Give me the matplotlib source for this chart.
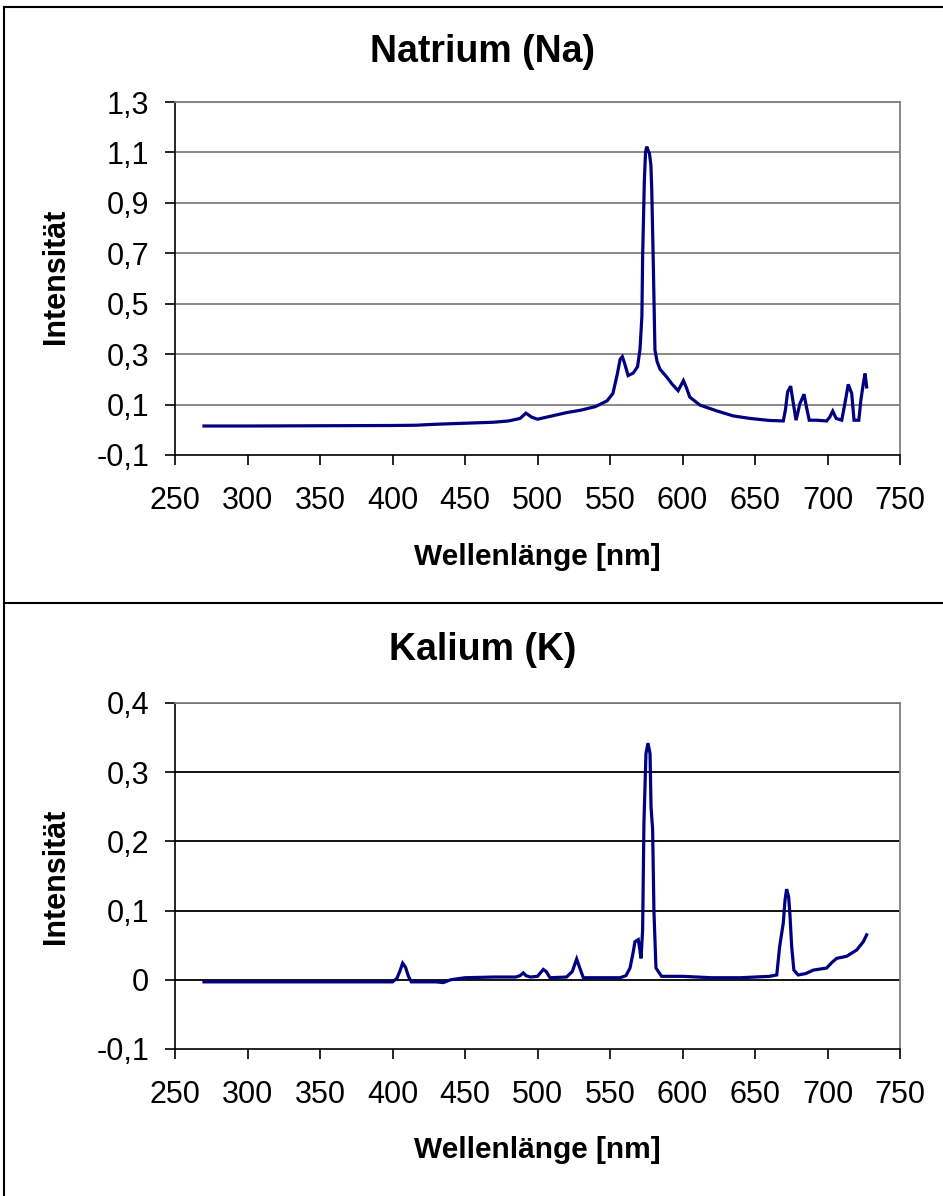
import matplotlib
matplotlib.use("Agg")
import matplotlib.pyplot as plt
from matplotlib.lines import Line2D
from matplotlib.ticker import FixedLocator, FixedFormatter

plt.rcParams['font.family'] = ['Liberation Sans', 'DejaVu Sans']

# ---- data ----
na_wl = [270, 300, 350, 400, 416, 430, 450, 470, 480, 488, 492, 496, 500, 510, 520, 530,
         540, 548, 552, 555, 557, 558.5, 560, 562.5, 566, 569, 570.7, 572, 572.5, 573.7,
         574.5, 575.3, 576.2, 577.2, 578.2, 578.8, 579.9, 581, 582.5, 584.5, 589, 593,
         597, 600.6, 602.5, 605, 612, 623.6, 635, 646.6, 660, 669.5, 671, 672.5, 674.6,
         676, 678.3, 681, 683.8, 685.5, 687.4, 692.5, 699.4, 701.5, 703.6, 706, 709.8,
         712, 714.3, 716.7, 718.3, 721.6, 723, 724.7, 725.9, 727]
na_int = [0.015, 0.015, 0.016, 0.017, 0.018, 0.022, 0.026, 0.030, 0.035, 0.045, 0.066,
          0.050, 0.042, 0.055, 0.068, 0.078, 0.092, 0.115, 0.144, 0.22, 0.28, 0.29,
          0.265, 0.215, 0.225, 0.25, 0.32, 0.45, 0.686, 0.99, 1.10, 1.123, 1.11, 1.096,
          1.05, 0.951, 0.646, 0.316, 0.27, 0.24, 0.21, 0.18, 0.155, 0.195, 0.17, 0.13,
          0.098, 0.075, 0.055, 0.045, 0.037, 0.035, 0.08, 0.15, 0.173, 0.12, 0.038,
          0.104, 0.141, 0.09, 0.038, 0.038, 0.035, 0.05, 0.074, 0.045, 0.038, 0.104,
          0.18, 0.144, 0.038, 0.038, 0.117, 0.183, 0.223, 0.17]

k_wl = [270, 300, 350, 400, 403, 405, 407, 409, 411, 413, 420, 430, 435, 440, 450, 470,
        485, 488, 490.2, 492, 495, 500, 502, 504, 506, 508.6, 520, 524, 527, 529, 531.6,
        545, 557, 561, 563.8, 566, 567.2, 569.5, 570.5, 571.4, 572.5, 573.4, 574.8,
        576.2, 577.6, 578.3, 579.4, 580.3, 581.7, 585.6, 600, 620, 640, 660, 665, 667,
        669.5, 670.7, 671.8, 673.2, 674.1, 675.3, 676.8, 679.8, 685, 690.2, 699.4, 703,
        706.3, 713.2, 720.1, 724.7, 727]
k_int = [-0.003, -0.003, -0.003, -0.003, 0.002, 0.012, 0.024, 0.018, 0.005, -0.003,
         -0.003, -0.003, -0.004, 0.0, 0.003, 0.004, 0.004, 0.006, 0.01, 0.006, 0.004,
         0.005, 0.010, 0.015, 0.012, 0.003, 0.004, 0.012, 0.03, 0.018, 0.003, 0.003,
         0.003, 0.006, 0.017, 0.04, 0.055, 0.058, 0.045, 0.031, 0.072, 0.226, 0.327,
         0.342, 0.327, 0.25, 0.217, 0.099, 0.017, 0.005, 0.005, 0.003, 0.003, 0.005,
         0.007, 0.048, 0.082, 0.115, 0.131, 0.12, 0.094, 0.048, 0.014, 0.007, 0.009,
         0.014, 0.017, 0.025, 0.031, 0.034, 0.043, 0.055, 0.065]

x_ticks = [250, 300, 350, 400, 450, 500, 550, 600, 650, 700, 750]
x_labels = ['250', '300', '350', '400', '450', '500', '550', '600', '650', '700', '750']
na_yticks = [-0.1, 0.1, 0.3, 0.5, 0.7, 0.9, 1.1, 1.3]
na_ylabels = ['-0,1', '0,1', '0,3', '0,5', '0,7', '0,9', '1,1', '1,3']
k_yticks = [-0.1, 0.0, 0.1, 0.2, 0.3, 0.4]
k_ylabels = ['-0,1', '0', '0,1', '0,2', '0,3', '0,4']

titles = ['Natrium (Na)', 'Kalium (K)']
xlabel = 'Wellenlänge [nm]'
ylabel = 'Intensität'

W, H = 943, 1196
fig = plt.figure(figsize=(W / 100, H / 100), dpi=100)

def fx(px):
    return px / W

def fy(py):
    return 1 - py / H

line_color = '#000080'

panels = [
    dict(wl=na_wl, val=na_int, yt=na_yticks, yl=na_ylabels, ylim=(-0.1, 1.3),
         top=102, bot=455, grid='#808080', title_y=52, xlab_y=557, ylab_y=276),
    dict(wl=k_wl, val=k_int, yt=k_yticks, yl=k_ylabels, ylim=(-0.1, 0.4),
         top=703, bot=1049, grid='#000000', title_y=650, xlab_y=1150, ylab_y=876),
]

for i, p in enumerate(panels):
    ax = fig.add_axes([fx(175), fy(p['bot']), fx(900) - fx(175), fy(p['top']) - fy(p['bot'])])
    ax.plot(p['wl'], p['val'], color=line_color, lw=2.3, solid_joinstyle='miter')
    ax.set_xlim(250, 750)
    ax.set_ylim(*p['ylim'])
    ax.xaxis.set_major_locator(FixedLocator(x_ticks))
    ax.xaxis.set_major_formatter(FixedFormatter(x_labels))
    ax.yaxis.set_major_locator(FixedLocator(p['yt']))
    ax.yaxis.set_major_formatter(FixedFormatter(p['yl']))
    for t in p['yt'][1:]:
        ax.axhline(t, color=p['grid'], lw=1.3, zorder=0)
    ax.spines['left'].set_color('black')
    ax.spines['bottom'].set_color('black')
    ax.spines['left'].set_linewidth(1.2)
    ax.spines['bottom'].set_linewidth(1.2)
    ax.spines['top'].set_color('#808080')
    ax.spines['right'].set_color('#808080')
    ax.spines['top'].set_linewidth(1.3)
    ax.spines['right'].set_linewidth(1.3)
    ax.tick_params(axis='both', direction='out', length=7.5, width=1.2,
                   labelsize=22, colors='black')
    ax.tick_params(axis='x', pad=15)
    ax.tick_params(axis='y', pad=11)
    fig.text(fx(483), fy(p['title_y']), titles[i],
             ha='center', va='center', fontsize=27, fontweight='bold')
    fig.text(fx(537), fy(p['xlab_y']), xlabel,
             ha='center', va='center', fontsize=21.5, fontweight='bold')
    fig.text(fx(56), fy(p['ylab_y']), ylabel, rotation=90,
             ha='center', va='center', fontsize=22, fontweight='bold')

# panel frames
for (x0, y0, x1, y1) in [(4, 7, 943, 7), (4, 7, 4, 1196), (4, 603, 943, 603)]:
    fig.add_artist(Line2D([fx(x0), fx(x1)], [fy(y0), fy(y1)], color='black', lw=1.5,
                          transform=fig.transFigure))

fig.savefig('out.png', dpi=100)
